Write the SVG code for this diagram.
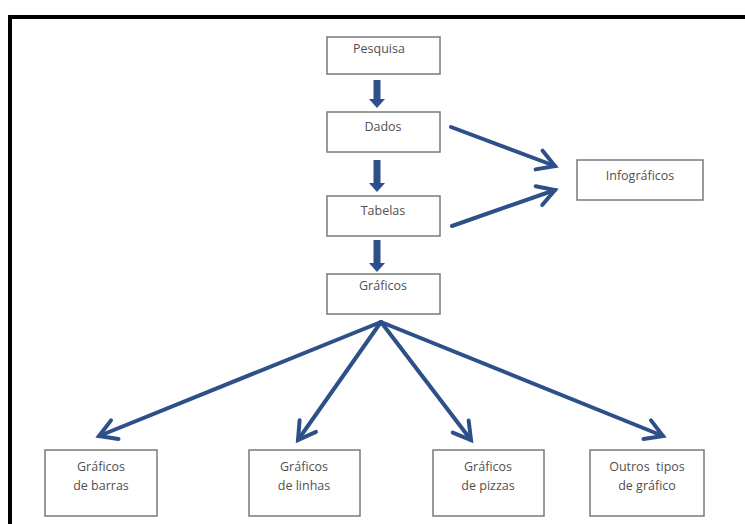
<svg xmlns="http://www.w3.org/2000/svg" width="745" height="524" viewBox="0 0 745 524">
<style>
.box{fill:#fff;stroke:#7a7a7a;stroke-width:1.5}
.t{font-family:"Open Sans","Liberation Sans",sans-serif;font-size:12.5px;fill:#505050;text-anchor:middle}
.ln{stroke:#2e5089;stroke-width:4;fill:none;stroke-linecap:round}
.blk{fill:#2e5089}
</style>
<defs>
<marker id="ah" markerUnits="userSpaceOnUse" markerWidth="30" markerHeight="30" refX="22" refY="15" orient="auto" overflow="visible">
<path d="M5,5 L22,15 L5,25" fill="none" stroke="#2e5089" stroke-width="4" stroke-linecap="round" stroke-linejoin="miter"/>
</marker>
</defs>
<rect width="745" height="524" fill="#fff"/>
<path d="M10,524 V17 H745" fill="none" stroke="#000" stroke-width="4"/>
<g id="connectors">
<polygon class="blk" points="373.5,80 380.5,80 380.5,99 385,99 377,108 369,99 373.5,99"/>
<polygon class="blk" points="373.5,160 380.5,160 380.5,183 385,183 377,192 369,183 373.5,183"/>
<polygon class="blk" points="373.5,240 380.5,240 380.5,263 385,263 377,272 369,263 373.5,263"/>
<line class="ln" x1="451" y1="127" x2="555" y2="166" marker-end="url(#ah)"/>
<line class="ln" x1="452" y1="226" x2="555" y2="190" marker-end="url(#ah)"/>
<line class="ln" x1="381" y1="322" x2="99" y2="436" marker-end="url(#ah)"/>
<line class="ln" x1="381" y1="322" x2="298" y2="440" marker-end="url(#ah)"/>
<line class="ln" x1="381" y1="322" x2="471" y2="440" marker-end="url(#ah)"/>
<line class="ln" x1="381" y1="322" x2="663" y2="436" marker-end="url(#ah)"/>
</g>
<g id="pesquisa"><rect class="box" x="327" y="37" width="113" height="37"/><text class="t" x="379" y="53">Pesquisa</text></g>
<g id="dados"><rect class="box" x="327" y="112" width="113" height="40"/><text class="t" x="383" y="131">Dados</text></g>
<g id="tabelas"><rect class="box" x="327" y="196" width="113" height="40"/><text class="t" x="383" y="215">Tabelas</text></g>
<g id="graficos"><rect class="box" x="327" y="274" width="113" height="40"/><text class="t" x="383" y="290">Gráficos</text></g>
<g id="infograficos"><rect class="box" x="577" y="160" width="126" height="40"/><text class="t" x="640" y="180">Infográficos</text></g>
<g id="barras"><rect class="box" x="45" y="450" width="112" height="66"/><text class="t" x="101" y="471">Gráficos</text><text class="t" x="101" y="490">de barras</text></g>
<g id="linhas"><rect class="box" x="249" y="450" width="111" height="66"/><text class="t" x="304" y="471">Gráficos</text><text class="t" x="304" y="490">de linhas</text></g>
<g id="pizzas"><rect class="box" x="433" y="450" width="111" height="66"/><text class="t" x="488" y="471">Gráficos</text><text class="t" x="488" y="490">de pizzas</text></g>
<g id="outros"><rect class="box" x="590" y="450" width="114" height="66"/><text class="t" x="647" y="471">Outros&#160; tipos</text><text class="t" x="647" y="490">de gráfico</text></g>
</svg>
